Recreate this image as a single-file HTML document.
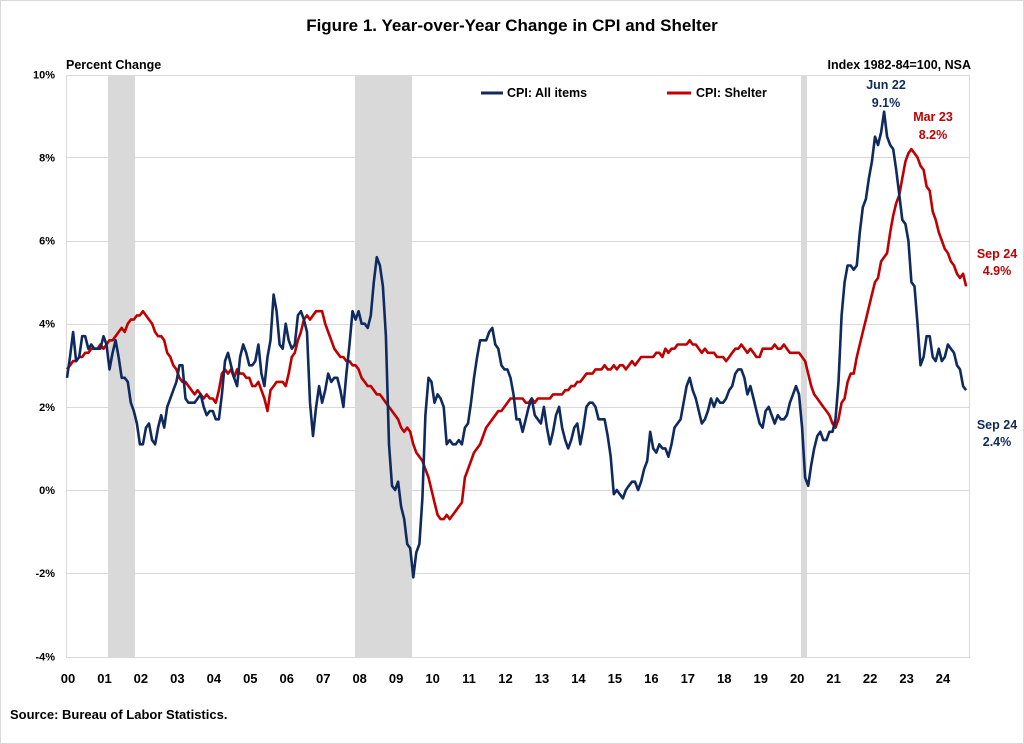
<!DOCTYPE html>
<html><head><meta charset="utf-8"><style>
body{margin:0;background:#fff;}
svg{display:block;font-family:"Liberation Sans",Arial,sans-serif;}
</style></head><body>
<svg id="c" width="1024" height="744" xmlns="http://www.w3.org/2000/svg">
<rect x="0.5" y="0.5" width="1023" height="743" fill="#fff" stroke="#d9d9d9"/>
<text x="512" y="31" text-anchor="middle" font-size="17" font-weight="bold">Figure 1. Year-over-Year Change in CPI and Shelter</text>
<text x="66" y="69" font-size="12.5" font-weight="bold">Percent Change</text>
<text x="971" y="69" text-anchor="end" font-size="12.5" font-weight="bold">Index 1982-84=100, NSA</text>
<rect x="108" y="75" width="27" height="582" fill="#d9d9d9"/>
<rect x="355" y="75" width="57" height="582" fill="#d9d9d9"/>
<rect x="801" y="75" width="6" height="582" fill="#d9d9d9"/>
<g id="grid" stroke="#d9d9d9" stroke-width="1"></g>
<rect x="66.5" y="75.5" width="903" height="582" fill="none" stroke="#d9d9d9"/>
<g id="yl" font-size="11" font-weight="bold" text-anchor="end"></g>
<g id="xl" font-size="13" font-weight="bold" text-anchor="middle"></g>
<line x1="481" y1="93" x2="503" y2="93" stroke="#0f2a5f" stroke-width="3"/>
<text x="507" y="97" font-size="12.5" font-weight="bold">CPI: All items</text>
<line x1="667" y1="93" x2="691" y2="93" stroke="#c00000" stroke-width="3"/>
<text x="696" y="97" font-size="12.5" font-weight="bold">CPI: Shelter</text>
<polyline id="sh" fill="none" stroke="#c00000" stroke-width="2.6" stroke-linejoin="round"/>
<polyline id="cp" fill="none" stroke="#0f2a5f" stroke-width="2.6" stroke-linejoin="round"/>
<g font-size="12.5" font-weight="bold" text-anchor="middle">
<text x="886" y="89" fill="#0f2a5f">Jun 22</text><text x="886" y="107" fill="#0f2a5f">9.1%</text>
<text x="933" y="121" fill="#c00000">Mar 23</text><text x="933" y="139" fill="#c00000">8.2%</text>
<text x="997" y="258" fill="#c00000">Sep 24</text><text x="997" y="275" fill="#c00000">4.9%</text>
<text x="997" y="429" fill="#0f2a5f">Sep 24</text><text x="997" y="446" fill="#0f2a5f">2.4%</text>
</g>
<text x="10" y="719" font-size="13" font-weight="bold">Source: Bureau of Labor Statistics.</text>
</svg>
<script>
var cpi=[2.7,3.2,3.8,3.1,3.2,3.7,3.7,3.4,3.5,3.4,3.4,3.4,
3.7,3.5,2.9,3.3,3.6,3.2,2.7,2.7,2.6,2.1,1.9,1.6,
1.1,1.1,1.5,1.6,1.2,1.1,1.5,1.8,1.5,2.0,2.2,2.4,
2.6,3.0,3.0,2.2,2.1,2.1,2.1,2.2,2.3,2.0,1.8,1.9,
1.9,1.7,1.7,2.3,3.1,3.3,3.0,2.7,2.5,3.2,3.5,3.3,
3.0,3.0,3.1,3.5,2.8,2.5,3.2,3.6,4.7,4.3,3.5,3.4,
4.0,3.6,3.4,3.5,4.2,4.3,4.1,3.8,2.1,1.3,2.0,2.5,
2.1,2.4,2.8,2.6,2.7,2.7,2.4,2.0,2.8,3.5,4.3,4.1,
4.3,4.0,4.0,3.9,4.2,5.0,5.6,5.4,4.9,3.7,1.1,0.1,
0.0,0.2,-0.4,-0.7,-1.3,-1.4,-2.1,-1.5,-1.3,-0.2,1.8,2.7,
2.6,2.1,2.3,2.2,2.0,1.1,1.2,1.1,1.1,1.2,1.1,1.5,
1.6,2.1,2.7,3.2,3.6,3.6,3.6,3.8,3.9,3.5,3.4,3.0,
2.9,2.9,2.7,2.3,1.7,1.7,1.4,1.7,2.0,2.2,1.8,1.7,
1.6,2.0,1.5,1.1,1.4,1.8,2.0,1.5,1.2,1.0,1.2,1.5,
1.6,1.1,1.5,2.0,2.1,2.1,2.0,1.7,1.7,1.7,1.3,0.8,
-0.1,0.0,-0.1,-0.2,0.0,0.1,0.2,0.2,0.0,0.2,0.5,0.7,
1.4,1.0,0.9,1.1,1.0,1.0,0.8,1.1,1.5,1.6,1.7,2.1,
2.5,2.7,2.4,2.2,1.9,1.6,1.7,1.9,2.2,2.0,2.2,2.1,
2.1,2.2,2.4,2.5,2.8,2.9,2.9,2.7,2.3,2.5,2.2,1.9,
1.6,1.5,1.9,2.0,1.8,1.6,1.8,1.7,1.7,1.8,2.1,2.3,
2.5,2.3,1.5,0.3,0.1,0.6,1.0,1.3,1.4,1.2,1.2,1.4,
1.4,1.7,2.6,4.2,5.0,5.4,5.4,5.3,5.4,6.2,6.8,7.0,
7.5,7.9,8.5,8.3,8.6,9.1,8.5,8.3,8.2,7.7,7.1,6.5,
6.4,6.0,5.0,4.9,4.0,3.0,3.2,3.7,3.7,3.2,3.1,3.4,
3.1,3.2,3.5,3.4,3.3,3.0,2.9,2.5,2.4];
var sh=[2.9,3.0,3.1,3.1,3.2,3.2,3.3,3.3,3.4,3.4,3.4,3.5,
3.4,3.5,3.6,3.6,3.7,3.8,3.9,3.8,4.0,4.1,4.1,4.2,
4.2,4.3,4.2,4.1,4.0,3.8,3.7,3.7,3.6,3.3,3.2,3.0,
2.9,2.7,2.6,2.6,2.5,2.4,2.3,2.4,2.3,2.2,2.3,2.2,
2.2,2.1,2.4,2.8,2.9,2.8,2.9,2.7,2.9,2.8,2.8,2.7,
2.7,2.5,2.5,2.6,2.4,2.2,1.9,2.4,2.5,2.6,2.6,2.6,
2.5,2.8,3.2,3.3,3.6,3.8,4.1,4.2,4.1,4.2,4.3,4.3,
4.3,4.0,3.8,3.6,3.4,3.3,3.2,3.2,3.1,3.1,3.0,3.0,
2.9,2.7,2.6,2.5,2.5,2.4,2.3,2.3,2.2,2.1,2.0,1.9,
1.8,1.7,1.5,1.4,1.5,1.4,1.1,0.9,0.8,0.7,0.5,0.3,
0.0,-0.3,-0.6,-0.7,-0.7,-0.6,-0.7,-0.6,-0.5,-0.4,-0.3,0.3,
0.5,0.7,0.9,1.0,1.1,1.3,1.5,1.6,1.7,1.8,1.9,1.9,
2.0,2.1,2.2,2.2,2.2,2.2,2.2,2.1,2.1,2.2,2.1,2.2,
2.2,2.2,2.2,2.2,2.3,2.3,2.3,2.3,2.4,2.4,2.5,2.5,
2.6,2.6,2.7,2.8,2.8,2.8,2.9,2.9,2.9,3.0,2.9,2.9,
3.0,2.9,3.0,3.0,2.9,3.0,3.1,3.0,3.1,3.2,3.2,3.2,
3.2,3.2,3.3,3.3,3.2,3.4,3.3,3.4,3.4,3.5,3.5,3.5,
3.5,3.6,3.5,3.5,3.4,3.3,3.4,3.3,3.3,3.3,3.2,3.2,
3.2,3.1,3.2,3.3,3.4,3.4,3.5,3.4,3.3,3.4,3.3,3.2,
3.2,3.4,3.4,3.4,3.4,3.5,3.4,3.4,3.5,3.4,3.3,3.3,
3.3,3.3,3.2,3.1,2.8,2.5,2.3,2.2,2.1,2.0,1.9,1.8,
1.6,1.5,1.7,2.1,2.2,2.6,2.8,2.8,3.2,3.5,3.8,4.1,
4.4,4.7,5.0,5.1,5.5,5.6,5.7,6.2,6.6,6.9,7.1,7.5,
7.9,8.1,8.2,8.1,8.0,7.8,7.7,7.3,7.2,6.7,6.5,6.2,
6.0,5.8,5.7,5.5,5.4,5.2,5.1,5.2,4.9];
function X(i){return 67+36.45*i/12}
function Y(v){return 490-41.57*v}
function pts(a){return a.map(function(v,i){return X(i).toFixed(1)+","+Y(v).toFixed(1)}).join(" ")}
document.getElementById("cp").setAttribute("points",pts(cpi));
document.getElementById("sh").setAttribute("points",pts(sh));
var ns="http://www.w3.org/2000/svg",g=document.getElementById("grid"),yl=document.getElementById("yl"),xl=document.getElementById("xl");
for(var v=-4;v<=10;v+=2){var y=Y(v);
 if(v>-4&&v<10){var l=document.createElementNS(ns,"line");l.setAttribute("x1",66);l.setAttribute("x2",970);l.setAttribute("y1",Math.round(y)+.5);l.setAttribute("y2",Math.round(y)+.5);g.appendChild(l);}
 var t=document.createElementNS(ns,"text");t.setAttribute("x",55);t.setAttribute("y",y+4);t.textContent=v+"%";yl.appendChild(t);}
for(var k=0;k<=24;k++){var t=document.createElementNS(ns,"text");t.setAttribute("x",68+36.46*k);t.setAttribute("y",683);t.textContent=(k<10?"0":"")+k;xl.appendChild(t);}
</script>
</body></html>
